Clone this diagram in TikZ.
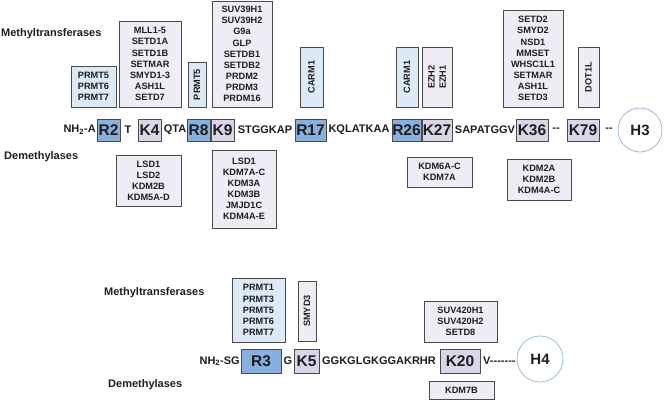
\documentclass[tikz,border=0pt]{standalone}
\usepackage{fontspec}
\setmainfont{Liberation Sans}
\usetikzlibrary{shapes}
\definecolor{rblue}{HTML}{88AFDD}
\definecolor{kpurple}{HTML}{DAD5E8}
\definecolor{lightblue}{HTML}{DCE9F7}
\definecolor{lavender}{HTML}{EEEDF6}
\definecolor{ringblue}{HTML}{9BBBDB}
\definecolor{boxline}{HTML}{4A4A4A}
\definecolor{ink}{HTML}{1E1E1E}
\tikzstyle{enzyme} = [rectangle, draw=boxline, line width=0.8pt, inner sep=0pt,
    align=center, text=ink, font=\bfseries\fontsize{9.2}{11.1}\selectfont]
\tikzstyle{mtR} = [enzyme, fill=lightblue]
\tikzstyle{mtK} = [enzyme, fill=lavender]
\tikzstyle{residue} = [rectangle, draw=boxline, line width=0.8pt, inner sep=0pt,
    minimum height=22pt, text=ink, font=\bfseries\fontsize{15.5}{15.5}\selectfont]
\tikzstyle{argR} = [residue, fill=rblue]
\tikzstyle{lysK} = [residue, fill=kpurple]
\tikzstyle{seq} = [inner sep=0pt, text=ink, font=\bfseries\fontsize{11}{11}\selectfont]
\tikzstyle{rowlabel} = [inner sep=0pt, anchor=west, text=ink, font=\bfseries\fontsize{11}{11}\selectfont]
\tikzstyle{histone} = [circle, draw=ringblue, line width=0.8pt, fill=white, minimum size=44pt,
    text=ink, font=\bfseries\fontsize{15}{15}\selectfont]

\begin{document}
\begin{tikzpicture}[x=1pt, y=-1pt]
    \useasboundingbox (0,0) rectangle (666,400);
    % H3: methyltransferases
    \node [rowlabel] (mtlabelA) at (1,34) {Methyltransferases};
    \node [mtR, minimum width=45pt, minimum height=41pt] (prmtR2) at (93.5,86.5) {PRMT5\\PRMT6\\PRMT7};
    \node [mtK, minimum width=62pt, minimum height=86pt] (mllK4) at (150,64) {MLL1-5\\SETD1A\\SETD1B\\SETMAR\\SMYD1-3\\ASH1L\\SETD7};
    \node [mtR, rotate=90, minimum width=45pt, minimum height=18pt] (prmtR8) at (197,84.5) {PRMT5};
    \node [mtK, minimum width=60pt, minimum height=106pt] (suvK9) at (242,54) {SUV39H1\\SUV39H2\\G9a\\GLP\\SETDB1\\SETDB2\\PRDM2\\PRDM3\\PRDM16};
    \node [mtR, rotate=90, minimum width=60pt, minimum height=23pt] (carmR17) at (311.5,77) {CARM1};
    \node [mtR, rotate=90, minimum width=60pt, minimum height=22pt] (carmR26) at (407,77) {CARM1};
    \node [mtK, rotate=90, minimum width=60pt, minimum height=30pt] (ezhK27) at (437,77) {EZH2\\EZH1};
    \node [mtK, minimum width=60pt, minimum height=97pt] (setdK36) at (533,58.5) {SETD2\\SMYD2\\NSD1\\MMSET\\WHSC1L1\\SETMAR\\ASH1L\\SETD3};
    \node [mtK, rotate=90, minimum width=60pt, minimum height=21pt] (dotK79) at (588.5,77) {DOT1L};
    % H3: tail sequence
    \node [seq, anchor=east] (ntermA) at (96,130) {NH\textsubscript{2}-A};
    \node [argR, minimum width=23pt] (R2) at (108.5,130) {R2};
    \node [seq] (sT) at (128,130) {T};
    \node [lysK, minimum width=23pt] (K4) at (149.5,130) {K4};
    \node [seq] (sQTA) at (175,130) {QTA};
    \node [argR, minimum width=23pt] (R8) at (198.5,130) {R8};
    \node [lysK, minimum width=23pt] (K9) at (222.5,130) {K9};
    \node [seq] (sSTG) at (265,130) {STGGKAP};
    \node [argR, minimum width=31pt] (R17) at (310.5,130) {R17};
    \node [seq] (sKQL) at (359,130) {KQLATKAA};
    \node [argR, minimum width=29pt] (R26) at (406.5,130) {R26};
    \node [lysK, minimum width=30pt] (K27) at (437,130) {K27};
    \node [seq] (sSAP) at (485,130) {SAPATGGV};
    \node [lysK, minimum width=32pt] (K36) at (532,130) {K36};
    \node [seq] (gapA) at (556,130) {-{}-};
    \node [lysK, minimum width=32pt] (K79) at (583,130) {K79};
    \node [seq] (gapB) at (609,130) {-{}-};
    \node [histone] (H3) at (640,130) {H3};
    % H3: demethylases
    \node [rowlabel] (dmlabelA) at (4,157) {Demethylases};
    \node [mtK, minimum width=65pt, minimum height=51pt] (lsdK4) at (148.5,180.5) {LSD1\\LSD2\\KDM2B\\KDM5A-D};
    \node [mtK, minimum width=64pt, minimum height=78pt] (lsdK9) at (244,189) {LSD1\\KDM7A-C\\KDM3A\\KDM3B\\JMJD1C\\KDM4A-E};
    \node [mtK, minimum width=65pt, minimum height=30pt] (kdmK27) at (439.5,172) {KDM6A-C\\KDM7A};
    \node [mtK, minimum width=64pt, minimum height=41pt] (kdmK36) at (539,179.5) {KDM2A\\KDM2B\\KDM4A-C};
    % H4: methyltransferases
    \node [rowlabel] (mtlabelB) at (104,293) {Methyltransferases};
    \node [mtR, minimum width=53pt, minimum height=64pt] (prmtR3) at (258.5,310) {PRMT1\\PRMT3\\PRMT5\\PRMT6\\PRMT7};
    \node [mtK, rotate=90, minimum width=60pt, minimum height=18pt] (smydK5) at (307,311) {SMYD3};
    \node [mtK, minimum width=73pt, minimum height=41pt] (suvK20) at (460.5,321.5) {SUV420H1\\SUV420H2\\SETD8};
    % H4: tail sequence
    \node [seq, anchor=east] (ntermB) at (240,361) {NH\textsubscript{2}-SG};
    \node [argR, minimum width=40pt, minimum height=24pt] (R3) at (261,361) {R3};
    \node [seq] (sG) at (288,361) {G};
    \node [lysK, minimum width=25pt, minimum height=24pt] (K5) at (306.5,361) {K5};
    \node [seq] (sGGK) at (379,361) {GGKGLGKGGAKRHR};
    \node [lysK, minimum width=40pt, minimum height=24pt] (K20) at (460,361) {K20};
    \node [seq, anchor=west] (sV) at (483,361) {V-{}-{}-{}-{}-{}-{}-};
    \node [histone, minimum size=46pt] (H4) at (540,359) {H4};
    % H4: demethylases
    \node [rowlabel] (dmlabelB) at (108,385) {Demethylases};
    \node [mtK, minimum width=65pt, minimum height=18pt] (kdmK20) at (461.5,390) {KDM7B};
\end{tikzpicture}
\end{document}
